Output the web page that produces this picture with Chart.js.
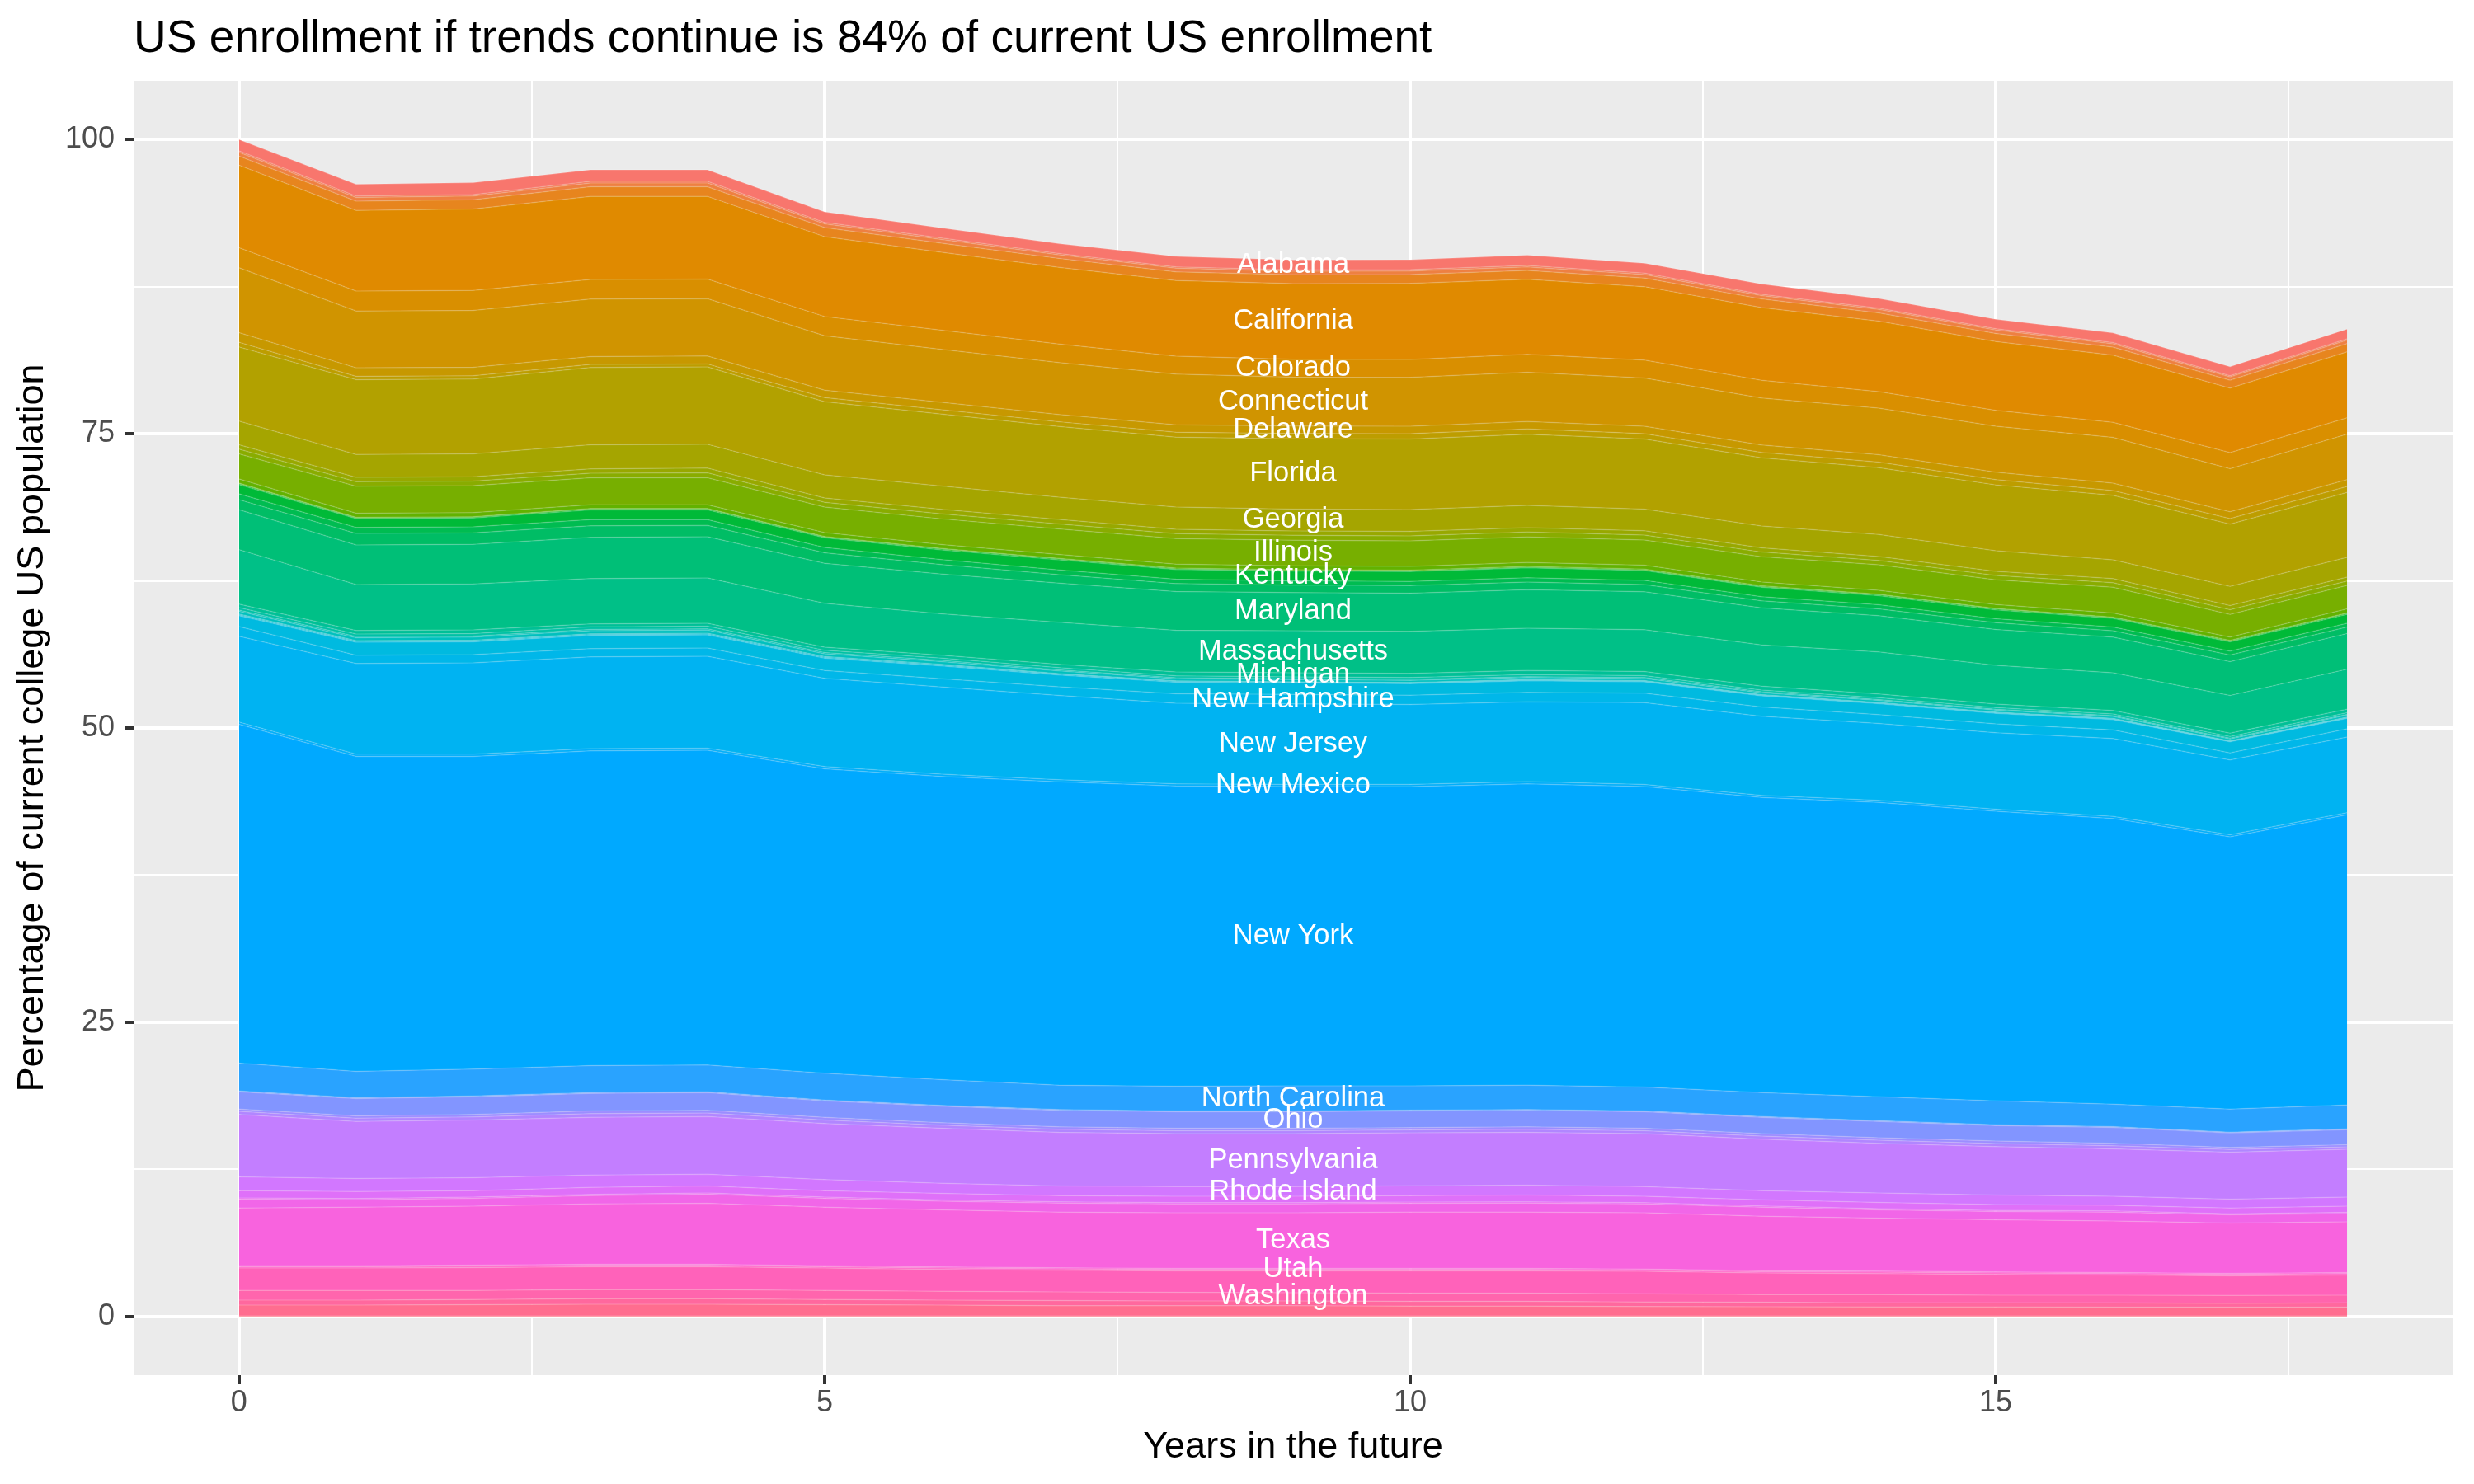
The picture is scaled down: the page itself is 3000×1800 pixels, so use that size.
<!DOCTYPE html>
<html>
<head>
<meta charset="utf-8">
<title>US enrollment if trends continue</title>
<script src="https://cdn.jsdelivr.net/npm/chart.js@4.4.1/dist/chart.umd.min.js"></script>
<style>
    html, body { margin: 0; padding: 0; background: #ffffff; }
    canvas { display: block; }
</style>
</head>
<body>
<canvas id="enrollmentChart" width="3000" height="1800" style="width:3000px;height:1800px"></canvas>
<script>
// Годы вперёд и деления осей
const years = [0, 1, 2, 3, 4, 5, 6, 7, 8, 9, 10, 11, 12, 13, 14, 15, 16, 17, 18];
const xTicks = [0, 5, 10, 15];
const xMinorTicks = [2.5, 7.5, 12.5, 17.5];
const yTicks = [0, 25, 50, 75, 100];
const yMinorTicks = [12.5, 37.5, 62.5, 87.5];

// Доля текущего набора по штатам (в процентах), по годам 0..18
const alabama        = [0.96, 1.00, 1.02, 0.98, 0.98, 0.90, 0.87, 0.84, 0.88, 0.84, 0.85, 0.88, 0.84, 0.87, 0.82, 0.81, 0.81, 0.77, 0.83];
const alaska         = [0.12, 0.12, 0.12, 0.13, 0.13, 0.12, 0.12, 0.12, 0.12, 0.12, 0.12, 0.12, 0.12, 0.11, 0.11, 0.11, 0.11, 0.10, 0.11];
const arizona        = [0.32, 0.31, 0.31, 0.33, 0.33, 0.31, 0.31, 0.30, 0.30, 0.30, 0.30, 0.30, 0.30, 0.29, 0.29, 0.29, 0.28, 0.28, 0.29];
const arkansas       = [0.77, 0.78, 0.79, 0.82, 0.81, 0.78, 0.77, 0.76, 0.74, 0.75, 0.75, 0.75, 0.73, 0.72, 0.70, 0.69, 0.69, 0.67, 0.70];
const california     = [7.01, 6.85, 6.92, 7.06, 7.03, 6.78, 6.63, 6.52, 6.43, 6.43, 6.47, 6.38, 6.25, 6.19, 6.00, 5.84, 5.70, 5.49, 5.61];
const colorado       = [1.71, 1.71, 1.71, 1.66, 1.66, 1.64, 1.62, 1.58, 1.53, 1.52, 1.52, 1.52, 1.52, 1.50, 1.39, 1.36, 1.29, 1.36, 1.39];
const connecticut    = [5.52, 4.82, 4.82, 4.88, 4.88, 4.62, 4.50, 4.40, 4.30, 4.15, 4.15, 4.20, 4.10, 4.00, 3.97, 3.90, 3.88, 3.67, 3.86];
const delaware       = [0.81, 0.73, 0.73, 0.67, 0.67, 0.63, 0.63, 0.63, 0.63, 0.63, 0.63, 0.63, 0.63, 0.63, 0.63, 0.63, 0.63, 0.58, 0.58];
const districtOfColumbia = [0.40, 0.27, 0.27, 0.26, 0.26, 0.35, 0.38, 0.40, 0.42, 0.45, 0.45, 0.45, 0.45, 0.46, 0.47, 0.45, 0.40, 0.47, 0.51];
const florida        = [6.30, 6.37, 6.37, 6.57, 6.57, 6.22, 6.10, 6.00, 5.95, 5.98, 6.00, 6.05, 5.95, 5.80, 5.68, 5.60, 5.49, 5.28, 5.52];
const georgia        = [2.01, 1.94, 1.94, 2.06, 2.03, 1.96, 1.98, 1.90, 1.88, 1.85, 1.85, 1.88, 1.85, 1.85, 1.87, 1.75, 1.59, 1.64, 1.68];
const hawaii         = [0.37, 0.36, 0.36, 0.36, 0.39, 0.37, 0.39, 0.38, 0.38, 0.38, 0.38, 0.38, 0.37, 0.36, 0.33, 0.34, 0.35, 0.35, 0.33];
const idaho          = [0.40, 0.39, 0.39, 0.39, 0.43, 0.40, 0.43, 0.42, 0.42, 0.42, 0.42, 0.42, 0.41, 0.39, 0.37, 0.38, 0.39, 0.39, 0.37];
const illinois       = [2.14, 2.29, 2.29, 2.29, 2.29, 2.17, 2.18, 2.17, 2.17, 2.17, 2.17, 2.17, 2.15, 2.15, 2.17, 2.10, 2.18, 1.94, 1.99];
const indiana        = [0.35, 0.35, 0.35, 0.31, 0.31, 0.33, 0.33, 0.33, 0.33, 0.33, 0.33, 0.33, 0.33, 0.33, 0.33, 0.33, 0.35, 0.28, 0.35];
const iowa           = [0.06, 0.06, 0.06, 0.06, 0.06, 0.06, 0.06, 0.06, 0.06, 0.06, 0.06, 0.06, 0.06, 0.06, 0.06, 0.06, 0.06, 0.06, 0.06];
const kansas         = [0.06, 0.06, 0.06, 0.06, 0.06, 0.06, 0.06, 0.06, 0.06, 0.06, 0.06, 0.06, 0.06, 0.06, 0.06, 0.06, 0.06, 0.06, 0.06];
const kentucky       = [0.79, 0.74, 0.74, 0.83, 0.83, 0.82, 0.83, 0.86, 0.83, 0.83, 0.83, 0.84, 0.83, 0.80, 0.78, 0.76, 0.72, 0.79, 0.76];
const louisiana      = [0.50, 0.52, 0.52, 0.52, 0.50, 0.45, 0.42, 0.40, 0.37, 0.36, 0.36, 0.37, 0.36, 0.35, 0.34, 0.33, 0.32, 0.33, 0.32];
const maine          = [0.85, 0.98, 0.98, 0.98, 0.95, 0.90, 0.80, 0.72, 0.68, 0.64, 0.64, 0.64, 0.62, 0.60, 0.58, 0.57, 0.54, 0.56, 0.55];
const maryland       = [3.39, 3.36, 3.36, 3.51, 3.51, 3.39, 3.39, 3.33, 3.28, 3.23, 3.25, 3.28, 3.22, 3.15, 3.09, 3.05, 3.04, 2.88, 3.03];
const massachusetts  = [4.63, 3.90, 3.90, 3.85, 3.85, 3.74, 3.51, 3.58, 3.55, 3.57, 3.57, 3.60, 3.55, 3.50, 3.57, 3.30, 3.20, 3.20, 3.40];
const michigan       = [0.30, 0.31, 0.31, 0.25, 0.25, 0.25, 0.25, 0.28, 0.32, 0.35, 0.35, 0.35, 0.35, 0.33, 0.32, 0.30, 0.30, 0.28, 0.30];
const minnesota      = [0.21, 0.21, 0.21, 0.22, 0.22, 0.20, 0.20, 0.19, 0.17, 0.16, 0.16, 0.16, 0.16, 0.15, 0.15, 0.14, 0.14, 0.14, 0.14];
const mississippi    = [0.10, 0.10, 0.10, 0.11, 0.11, 0.10, 0.10, 0.09, 0.08, 0.08, 0.08, 0.08, 0.08, 0.08, 0.08, 0.07, 0.07, 0.07, 0.07];
const missouri       = [0.23, 0.25, 0.25, 0.26, 0.26, 0.24, 0.22, 0.22, 0.18, 0.18, 0.18, 0.18, 0.18, 0.17, 0.17, 0.17, 0.16, 0.16, 0.16];
const montana        = [0.07, 0.07, 0.07, 0.07, 0.07, 0.07, 0.07, 0.06, 0.06, 0.05, 0.05, 0.05, 0.05, 0.05, 0.05, 0.05, 0.05, 0.04, 0.05];
const nebraska       = [0.07, 0.07, 0.07, 0.07, 0.07, 0.07, 0.07, 0.06, 0.06, 0.05, 0.05, 0.05, 0.05, 0.05, 0.05, 0.05, 0.05, 0.04, 0.05];
const nevada         = [0.93, 1.10, 1.10, 1.12, 1.12, 1.05, 1.10, 1.00, 0.98, 0.98, 0.98, 0.98, 0.97, 0.95, 0.93, 0.90, 0.88, 0.95, 0.90];
const newHampshire   = [0.82, 0.70, 0.70, 0.70, 0.70, 0.66, 0.70, 0.75, 0.80, 0.80, 0.80, 0.80, 0.80, 0.78, 0.76, 0.75, 0.73, 0.60, 0.70];
const newJersey      = [7.30, 7.71, 7.76, 7.81, 7.81, 7.50, 7.41, 7.16, 6.86, 6.85, 6.79, 6.79, 6.96, 6.73, 6.53, 6.50, 6.62, 6.36, 6.43];
const newMexico      = [0.18, 0.18, 0.18, 0.18, 0.18, 0.18, 0.18, 0.18, 0.18, 0.18, 0.18, 0.18, 0.18, 0.18, 0.18, 0.18, 0.18, 0.17, 0.18];
const newYork        = [28.80, 26.77, 26.58, 26.75, 26.75, 25.88, 25.77, 25.77, 25.51, 25.42, 25.42, 25.61, 25.53, 25.07, 25.00, 24.60, 24.27, 23.13, 24.65];
const northCarolina  = [2.36, 2.25, 2.27, 2.29, 2.27, 2.27, 2.20, 2.08, 2.10, 2.14, 2.07, 2.08, 2.03, 2.03, 2.03, 2.03, 1.91, 1.96, 2.03];
const northDakota    = [0.07, 0.07, 0.07, 0.07, 0.07, 0.07, 0.07, 0.07, 0.07, 0.07, 0.07, 0.07, 0.07, 0.07, 0.07, 0.07, 0.07, 0.07, 0.07];
const ohio           = [1.47, 1.46, 1.52, 1.49, 1.52, 1.40, 1.40, 1.40, 1.41, 1.41, 1.43, 1.40, 1.41, 1.40, 1.40, 1.33, 1.36, 1.24, 1.29];
const oklahoma       = [0.20, 0.20, 0.20, 0.23, 0.22, 0.23, 0.20, 0.20, 0.20, 0.20, 0.19, 0.20, 0.20, 0.20, 0.20, 0.20, 0.20, 0.17, 0.17];
const oregon         = [0.27, 0.27, 0.26, 0.31, 0.29, 0.31, 0.27, 0.27, 0.26, 0.26, 0.25, 0.27, 0.26, 0.27, 0.27, 0.27, 0.27, 0.23, 0.22];
const pennsylvania   = [5.30, 4.86, 4.91, 4.91, 4.91, 4.76, 4.67, 4.55, 4.49, 4.49, 4.49, 4.48, 4.49, 4.37, 4.21, 4.11, 4.02, 3.99, 4.05];
const rhodeIsland    = [1.17, 1.10, 1.10, 1.05, 1.00, 0.94, 0.86, 0.82, 0.82, 0.82, 0.84, 0.84, 0.82, 0.77, 0.81, 0.80, 0.77, 0.75, 0.77];
const southCarolina  = [0.62, 0.60, 0.55, 0.60, 0.60, 0.55, 0.56, 0.53, 0.55, 0.55, 0.55, 0.58, 0.55, 0.53, 0.53, 0.51, 0.48, 0.49, 0.53];
const southDakota    = [0.10, 0.10, 0.10, 0.10, 0.10, 0.10, 0.10, 0.10, 0.10, 0.10, 0.10, 0.10, 0.10, 0.10, 0.10, 0.10, 0.10, 0.10, 0.10];
const tennessee      = [0.75, 0.63, 0.66, 0.70, 0.77, 0.75, 0.74, 0.77, 0.75, 0.75, 0.75, 0.77, 0.75, 0.77, 0.71, 0.70, 0.75, 0.70, 0.70];
const texas          = [4.91, 4.98, 5.02, 5.14, 5.19, 4.98, 4.86, 4.74, 4.74, 4.74, 4.79, 4.79, 4.79, 4.63, 4.50, 4.43, 4.39, 4.27, 4.32];
const utah           = [0.08, 0.08, 0.08, 0.08, 0.08, 0.08, 0.08, 0.08, 0.08, 0.08, 0.08, 0.08, 0.08, 0.08, 0.08, 0.08, 0.08, 0.08, 0.08];
const vermont        = [0.12, 0.12, 0.12, 0.12, 0.12, 0.12, 0.12, 0.12, 0.12, 0.12, 0.12, 0.12, 0.12, 0.12, 0.12, 0.12, 0.12, 0.12, 0.12];
const virginia       = [1.90, 1.90, 1.95, 1.95, 1.95, 1.90, 1.86, 1.84, 1.83, 1.86, 1.90, 1.90, 1.90, 1.83, 1.79, 1.77, 1.72, 1.67, 1.72];
const washington     = [0.82, 0.82, 0.77, 0.77, 0.77, 0.77, 0.75, 0.74, 0.73, 0.70, 0.70, 0.70, 0.70, 0.65, 0.70, 0.65, 0.65, 0.68, 0.65];
const westVirginia   = [0.42, 0.42, 0.44, 0.47, 0.47, 0.44, 0.42, 0.43, 0.40, 0.40, 0.40, 0.40, 0.38, 0.38, 0.35, 0.35, 0.37, 0.32, 0.37];
const wisconsin      = [0.91, 0.91, 0.94, 0.98, 0.98, 0.94, 0.91, 0.86, 0.86, 0.86, 0.82, 0.82, 0.79, 0.77, 0.75, 0.75, 0.73, 0.73, 0.73];
const wyoming        = [0.05, 0.05, 0.05, 0.05, 0.05, 0.05, 0.05, 0.05, 0.05, 0.05, 0.05, 0.05, 0.05, 0.05, 0.05, 0.05, 0.05, 0.05, 0.05];

const states = [
    'Alabama', 'Alaska', 'Arizona', 'Arkansas', 'California', 'Colorado', 'Connecticut', 'Delaware',
    'District of Columbia', 'Florida', 'Georgia', 'Hawaii', 'Idaho', 'Illinois', 'Indiana', 'Iowa',
    'Kansas', 'Kentucky', 'Louisiana', 'Maine', 'Maryland', 'Massachusetts', 'Michigan', 'Minnesota',
    'Mississippi', 'Missouri', 'Montana', 'Nebraska', 'Nevada', 'New Hampshire', 'New Jersey',
    'New Mexico', 'New York', 'North Carolina', 'North Dakota', 'Ohio', 'Oklahoma', 'Oregon',
    'Pennsylvania', 'Rhode Island', 'South Carolina', 'South Dakota', 'Tennessee', 'Texas', 'Utah',
    'Vermont', 'Virginia', 'Washington', 'West Virginia', 'Wisconsin', 'Wyoming'
];
const stateValues = [
    alabama, alaska, arizona, arkansas, california, colorado, connecticut, delaware,
    districtOfColumbia, florida, georgia, hawaii, idaho, illinois, indiana, iowa,
    kansas, kentucky, louisiana, maine, maryland, massachusetts, michigan, minnesota,
    mississippi, missouri, montana, nebraska, nevada, newHampshire, newJersey,
    newMexico, newYork, northCarolina, northDakota, ohio, oklahoma, oregon,
    pennsylvania, rhodeIsland, southCarolina, southDakota, tennessee, texas, utah,
    vermont, virginia, washington, westVirginia, wisconsin, wyoming
];

// Подписи на графике (ставятся по середине полосы в году labelYear)
const labelledStates = [
    'Alabama', 'California', 'Colorado', 'Connecticut', 'Delaware', 'Florida', 'Georgia',
    'Illinois', 'Kentucky', 'Maryland', 'Massachusetts', 'Michigan', 'New Hampshire',
    'New Jersey', 'New Mexico', 'New York', 'North Carolina', 'Ohio', 'Pennsylvania',
    'Rhode Island', 'Texas', 'Utah', 'Washington'
];
const labelYear = 9;

const titleText = 'US enrollment if trends continue is 84% of current US enrollment';
const fontFamily = '"Liberation Sans", Arial, Helvetica, sans-serif';

// Палитра как у ggplot (hue_pal): HCL, l = 65, c = 100
function hclColour(h, c, l) {
    const hr = h * Math.PI / 180;
    const U = c * Math.cos(hr);
    const V = c * Math.sin(hr);
    const Xn = 95.047, Yn = 100, Zn = 108.883;
    const Y = l > 8 ? Yn * Math.pow((l + 16) / 116, 3) : Yn * l / 903.3;
    const den = Xn + 15 * Yn + 3 * Zn;
    const un = 4 * Xn / den, vn = 9 * Yn / den;
    const u = U / (13 * l) + un;
    const v = V / (13 * l) + vn;
    const X = 9 * Y * u / (4 * v);
    const Z = -X / 3 - 5 * Y + 3 * Y / v;
    const lin = [
        3.240479 * X - 1.537150 * Y - 0.498535 * Z,
        -0.969256 * X + 1.875992 * Y + 0.041556 * Z,
        0.055648 * X - 0.204043 * Y + 1.057311 * Z
    ].map(t => t / 100);
    const gamma = t => t > 0.0031308 ? 1.055 * Math.pow(t, 1 / 2.4) - 0.055 : 12.92 * t;
    const rgb = lin.map(t => Math.round(255 * Math.min(1, Math.max(0, gamma(t)))));
    return `rgb(${rgb[0]},${rgb[1]},${rgb[2]})`;
}
const stateColours = states.map((s, i) => hclColour(15 + i * 360 / states.length, 100, 65));

// Наборы данных: в ggplot первый уровень сверху, поэтому стек строим с конца
const datasets = states.map((name, i) => ({
    label: name,
    data: years.map((year, j) => ({ x: year, y: stateValues[i][j] })),
    backgroundColor: stateColours[i],
    borderColor: 'rgba(255,255,255,0.16)',
    borderWidth: 1.5,
    pointRadius: 0,
    tension: 0
})).reverse();
datasets.forEach((d, k) => { d.fill = k === 0 ? 'origin' : '-1'; });

// Серый фон панели и заголовок
const panelPlugin = {
    id: 'panelPlugin',
    beforeDraw: (chart) => {
        const ctx = chart.ctx;
        const area = chart.chartArea;
        ctx.save();
        ctx.fillStyle = '#ffffff';
        ctx.fillRect(0, 0, chart.width, chart.height);
        ctx.fillStyle = '#EBEBEB';
        ctx.fillRect(area.left, area.top, area.right - area.left, area.bottom - area.top);
        ctx.fillStyle = '#000000';
        ctx.font = `55px ${fontFamily}`;
        ctx.textAlign = 'left';
        ctx.textBaseline = 'alphabetic';
        ctx.fillText(titleText, area.left, 63);
        ctx.restore();
    }
};

// Белые подписи штатов по центру их полос
const stateLabelPlugin = {
    id: 'stateLabelPlugin',
    afterDatasetsDraw: (chart) => {
        const ctx = chart.ctx;
        const yScale = chart.scales.y;
        const idx = years.indexOf(labelYear);
        ctx.save();
        ctx.font = `34.5px ${fontFamily}`;
        ctx.fillStyle = '#ffffff';
        ctx.textAlign = 'center';
        ctx.textBaseline = 'middle';
        chart.data.datasets.forEach((ds, k) => {
            if (!labelledStates.includes(ds.label)) return;
            const top = chart.getDatasetMeta(k).data[idx];
            const bottomY = k > 0 ? chart.getDatasetMeta(k - 1).data[idx].y : yScale.getPixelForValue(0);
            ctx.fillText(ds.label, top.x, (top.y + bottomY) / 2);
        });
        ctx.restore();
    }
};

const isMajor = (value, majors) => majors.includes(value);

const enrollmentChart = new Chart(document.getElementById('enrollmentChart').getContext('2d'), {
    type: 'line',
    data: { datasets: datasets },
    options: {
        responsive: false,
        maintainAspectRatio: false,
        devicePixelRatio: 1,
        animation: false,
        layout: { padding: { left: 0, right: 26, top: 98, bottom: 0 } },
        plugins: {
            legend: { display: false },
            tooltip: { enabled: false },
            title: { display: false }
        },
        scales: {
            x: {
                type: 'linear',
                min: -0.9,
                max: 18.9,
                afterBuildTicks: (scale) => {
                    scale.ticks = xTicks.concat(xMinorTicks).sort((a, b) => a - b).map(v => ({ value: v }));
                },
                afterFit: (scale) => { scale.height = 132; },
                border: { display: false },
                grid: {
                    color: '#ffffff',
                    lineWidth: (c) => isMajor(c.tick.value, xTicks) ? 4 : 2,
                    drawTicks: true,
                    tickLength: 11,
                    tickWidth: 4,
                    tickColor: (c) => isMajor(c.tick.value, xTicks) ? '#333333' : 'rgba(0,0,0,0)'
                },
                ticks: {
                    autoSkip: false,
                    maxRotation: 0,
                    padding: 5,
                    color: '#4D4D4D',
                    font: { size: 36, family: fontFamily, lineHeight: 1 },
                    callback: (v) => isMajor(v, xTicks) ? String(v) : ''
                },
                title: {
                    display: true,
                    text: 'Years in the future',
                    color: '#000000',
                    font: { size: 45, family: fontFamily, lineHeight: 1.2 },
                    padding: { top: 0, bottom: 17 }
                }
            },
            y: {
                type: 'linear',
                stacked: true,
                min: -5,
                max: 105,
                afterBuildTicks: (scale) => {
                    scale.ticks = yTicks.concat(yMinorTicks).sort((a, b) => a - b).map(v => ({ value: v }));
                },
                afterFit: (scale) => { scale.width = 162; },
                border: { display: false },
                grid: {
                    color: '#ffffff',
                    lineWidth: (c) => isMajor(c.tick.value, yTicks) ? 4 : 2,
                    drawTicks: true,
                    tickLength: 11,
                    tickWidth: 4,
                    tickColor: (c) => isMajor(c.tick.value, yTicks) ? '#333333' : 'rgba(0,0,0,0)'
                },
                ticks: {
                    autoSkip: false,
                    padding: 12,
                    color: '#4D4D4D',
                    font: { size: 36, family: fontFamily, lineHeight: 1 },
                    callback: (v) => isMajor(v, yTicks) ? String(v) : ''
                },
                title: {
                    display: true,
                    text: 'Percentage of current college US population',
                    color: '#000000',
                    font: { size: 45, family: fontFamily, lineHeight: 1.2 },
                    padding: { top: 13, bottom: 0 }
                }
            }
        }
    },
    plugins: [panelPlugin, stateLabelPlugin]
});
</script>
</body>
</html>
